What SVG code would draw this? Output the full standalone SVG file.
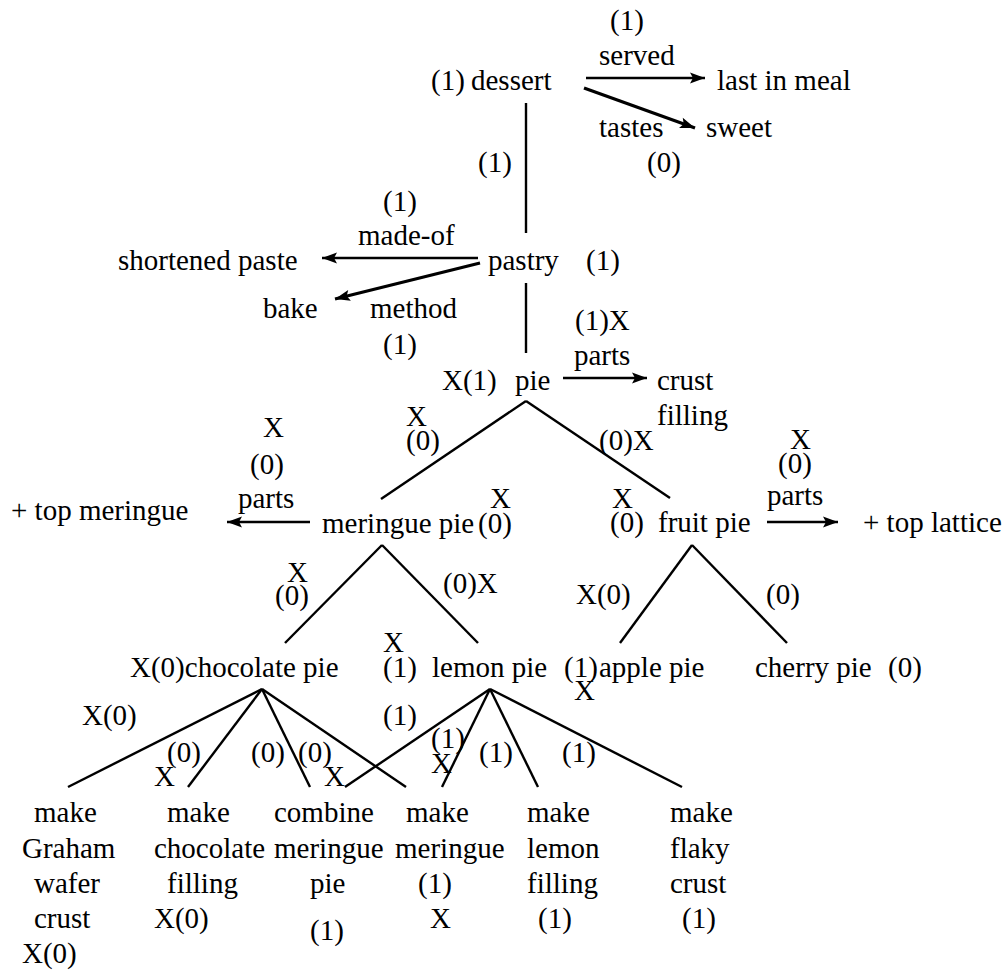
<svg xmlns="http://www.w3.org/2000/svg" width="1005" height="971" viewBox="0 0 1005 971" font-family="'Liberation Serif', 'Times New Roman', Times, serif" font-size="29">
<style>
text{font-family:'Liberation Serif','Times New Roman',Times,serif;font-size:29px;fill:#000}
.ln{stroke:#000;stroke-width:2.4;fill:none}
.ar{stroke:#000;stroke-width:2.4;fill:none;marker-end:url(#ah)}
.ar3{stroke:#000;stroke-width:3.2;fill:none;marker-end:url(#ah)}
</style>
<defs>
<marker id="ah" markerUnits="userSpaceOnUse" markerWidth="20" markerHeight="14" viewBox="-16 -7 18 14" refX="0" refY="0" orient="auto">
<path d="M0,0 L-15,-5.5 L-12,0 L-15,5.5 Z" fill="#000"/>
</marker>
</defs>
<rect width="1005" height="971" fill="#fff"/>
<g id="connectors">
<line class="ar" x1="586" y1="78" x2="705" y2="78"/>
<line class="ar3" x1="584" y1="88" x2="695" y2="128"/>
<line class="ar" x1="478" y1="258" x2="322" y2="258"/>
<line class="ar3" x1="480" y1="263" x2="335" y2="299"/>
<line class="ar" x1="563" y1="378" x2="647" y2="378"/>
<line class="ar" x1="310" y1="522" x2="227" y2="522"/>
<line class="ar" x1="767" y1="522" x2="838" y2="522"/>
<line class="ln" x1="526" y1="103" x2="526" y2="233"/>
<line class="ln" x1="526" y1="283" x2="526" y2="353"/>
<line class="ln" x1="526" y1="401" x2="381" y2="499"/>
<line class="ln" x1="526" y1="401" x2="670" y2="498"/>
<line class="ln" x1="382" y1="545" x2="285" y2="643"/>
<line class="ln" x1="382" y1="545" x2="478" y2="643"/>
<line class="ln" x1="692" y1="545" x2="620" y2="643"/>
<line class="ln" x1="692" y1="545" x2="787" y2="643"/>
<line class="ln" x1="262" y1="689" x2="68" y2="787"/>
<line class="ln" x1="262" y1="689" x2="188" y2="787"/>
<line class="ln" x1="262" y1="689" x2="310" y2="787"/>
<line class="ln" x1="262" y1="689" x2="406" y2="787"/>
<line class="ln" x1="490" y1="689" x2="345" y2="787"/>
<line class="ln" x1="490" y1="689" x2="442" y2="787"/>
<line class="ln" x1="490" y1="689" x2="538" y2="787"/>
<line class="ln" x1="490" y1="689" x2="682" y2="787"/>
</g>
<g id="labels">
<text x="610" y="30">(1)</text>
<text x="599" y="65">served</text>
<text x="599" y="137">tastes</text>
<text x="647" y="172">(0)</text>
<text x="478" y="172">(1)</text>
<text x="383" y="211">(1)</text>
<text x="358" y="245">made-of</text>
<text x="370" y="318">method</text>
<text x="383" y="354">(1)</text>
<text x="575" y="330">(1)X</text>
<text x="574" y="365">parts</text>
<text x="406" y="426">X</text>
<text x="406" y="450">(0)</text>
<text x="599" y="450">(0)X</text>
<text x="263" y="437">X</text>
<text x="250" y="474">(0)</text>
<text x="238" y="508">parts</text>
<text x="790" y="449">X</text>
<text x="778" y="473">(0)</text>
<text x="767" y="505">parts</text>
<text x="287" y="582">X</text>
<text x="275" y="605">(0)</text>
<text x="443" y="593">(0)X</text>
<text x="576" y="604">X(0)</text>
<text x="766" y="604">(0)</text>
<text x="82" y="725">X(0)</text>
<text x="167" y="762">(0)</text>
<text x="154" y="786">X</text>
<text x="251" y="762">(0)</text>
<text x="298" y="762">(0)</text>
<text x="324" y="786">X</text>
<text x="383" y="725">(1)</text>
<text x="431" y="748">(1)</text>
<text x="431" y="773">X</text>
<text x="479" y="762">(1)</text>
<text x="562" y="762">(1)</text>
</g>
<g id="node-dessert"><text x="431" y="90">(1)</text><text x="471" y="90">dessert</text></g>
<g id="node-last-in-meal"><text x="717" y="90">last in meal</text></g>
<g id="node-sweet"><text x="706" y="137">sweet</text></g>
<g id="node-pastry"><text x="488" y="270">pastry</text><text x="586" y="270">(1)</text></g>
<g id="node-shortened-paste"><text x="118" y="270">shortened paste</text></g>
<g id="node-bake"><text x="263" y="318">bake</text></g>
<g id="node-pie"><text x="442" y="390">X(1)</text><text x="515" y="390">pie</text></g>
<g id="node-crust-filling"><text x="657" y="390">crust</text><text x="657" y="425">filling</text></g>
<g id="node-top-meringue"><text x="11" y="520">+ top meringue</text></g>
<g id="node-meringue-pie"><text x="322" y="533">meringue pie</text><text x="490" y="508">X</text><text x="478" y="533">(0)</text></g>
<g id="node-fruit-pie"><text x="612" y="508">X</text><text x="610" y="532">(0)</text><text x="658" y="532">fruit pie</text></g>
<g id="node-top-lattice"><text x="863" y="532">+ top lattice</text></g>
<g id="node-chocolate-pie"><text x="130" y="677">X(0)chocolate pie</text></g>
<g id="node-lemon-pie"><text x="383" y="652">X</text><text x="383" y="677">(1)</text><text x="432" y="677">lemon pie</text></g>
<g id="node-apple-pie"><text x="564" y="677">(1)</text><text x="599" y="677">apple pie</text><text x="574" y="700">X</text></g>
<g id="node-cherry-pie"><text x="755" y="677">cherry pie</text><text x="888" y="677">(0)</text></g>
<g id="node-graham"><text x="34" y="822">make</text><text x="22" y="858">Graham</text><text x="34" y="893">wafer</text><text x="34" y="928">crust</text><text x="22" y="963">X(0)</text></g>
<g id="node-choc-filling"><text x="167" y="822">make</text><text x="154" y="858">chocolate</text><text x="167" y="893">filling</text><text x="154" y="928">X(0)</text></g>
<g id="node-combine"><text x="274" y="822">combine</text><text x="274" y="858">meringue</text><text x="310" y="893">pie</text><text x="310" y="940">(1)</text></g>
<g id="node-make-meringue"><text x="406" y="822">make</text><text x="395" y="858">meringue</text><text x="418" y="893">(1)</text><text x="430" y="928">X</text></g>
<g id="node-lemon-filling"><text x="527" y="822">make</text><text x="527" y="858">lemon</text><text x="527" y="893">filling</text><text x="538" y="928">(1)</text></g>
<g id="node-flaky-crust"><text x="670" y="822">make</text><text x="670" y="858">flaky</text><text x="670" y="893">crust</text><text x="682" y="928">(1)</text></g>
</svg>
